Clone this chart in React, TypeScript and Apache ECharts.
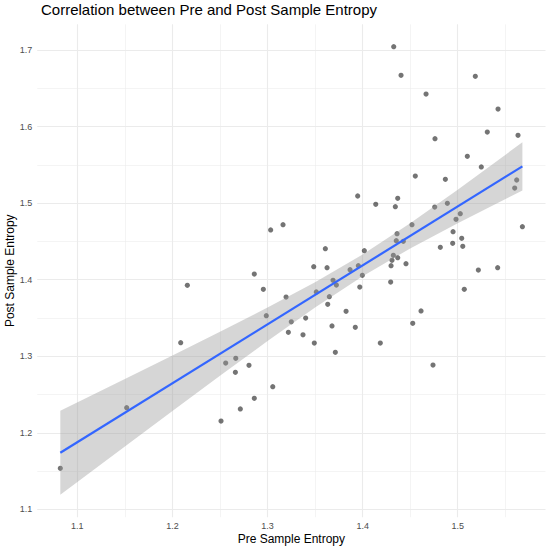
import React, { useEffect, useRef } from "react";
import * as echarts from "echarts";

// Scatter points: pre (x) and post (y) sample entropy
const preEntropy = [
  1.0821, 1.1519, 1.2087, 1.2157, 1.2511, 1.256, 1.2666, 1.2662, 1.2714, 1.2805,
  1.2861, 1.2956, 1.2987, 1.2861, 1.3055, 1.3033, 1.3163, 1.3608, 1.4018, 1.3486,
  1.3626, 1.3868, 1.3955, 1.3997, 1.3689, 1.3724, 1.397, 1.4295, 1.3195, 1.3513,
  1.365, 1.3633, 1.3401, 1.325, 1.3826, 1.3219, 1.3373, 1.3678, 1.3923, 1.3492,
  1.3713, 1.4186, 1.3948, 1.4138, 1.4344, 1.4369, 1.4362, 1.4354, 1.4554, 1.487,
  1.562, 1.5599, 1.4758, 1.4891, 1.4519, 1.5027, 1.4982, 1.568, 1.4428, 1.4951,
  1.5042, 1.4947, 1.4817, 1.5053, 1.4323, 1.4369, 1.4309, 1.4299, 1.4456, 1.5217,
  1.542, 1.5069, 1.4614, 1.4527, 1.474, 1.4327, 1.4404, 1.5185, 1.4667, 1.5424,
  1.4761, 1.5311, 1.5634, 1.5101, 1.5248,
];
const postEntropy = [
  1.1536, 1.2327, 1.3176, 1.3926, 1.2153, 1.2911, 1.2973, 1.279, 1.2311, 1.2881,
  1.4074, 1.3874, 1.3529, 1.245, 1.2602, 1.4649, 1.4718, 1.4404, 1.4378, 1.4169,
  1.4156, 1.413, 1.4182, 1.4057, 1.3991, 1.393, 1.3904, 1.3969, 1.3773, 1.3839,
  1.3778, 1.3678, 1.3499, 1.345, 1.3586, 1.3312, 1.328, 1.3395, 1.3377, 1.3172,
  1.3051, 1.3172, 1.5093, 1.4984, 1.4953, 1.5063, 1.46, 1.4509, 1.5354, 1.5311,
  1.5302, 1.5197, 1.4949, 1.4997, 1.4718, 1.4862, 1.4788, 1.4692, 1.4501, 1.4627,
  1.454, 1.4475, 1.4423, 1.4436, 1.4318, 1.4287, 1.4253, 1.4182, 1.4208, 1.4126,
  1.4156, 1.3874, 1.3591, 1.343, 1.2885, 1.7043, 1.667, 1.6656, 1.6425, 1.6229,
  1.5841, 1.5929, 1.5885, 1.5611, 1.5472,
];

// Fitted line end points and confidence band
const fitX = [1.0821, 1.568];
const fitY = [1.1739, 1.548];
const bandX = [1.0821, 1.15, 1.2, 1.25, 1.3, 1.35, 1.4, 1.45, 1.5, 1.568];
const bandUpper = [1.2288, 1.2702, 1.301, 1.332, 1.3636, 1.3967, 1.4329, 1.4737, 1.5176, 1.5794];
const bandLower = [1.119, 1.1822, 1.2285, 1.2744, 1.3198, 1.3638, 1.4045, 1.4408, 1.4738, 1.5166];

// Axis ticks
const xTicks = [1.1, 1.2, 1.3, 1.4, 1.5];
const xMinorTicks = [1.15, 1.25, 1.35, 1.45, 1.55];
const yTicks = [1.1, 1.2, 1.3, 1.4, 1.5, 1.6, 1.7];
const yMinorTicks = [1.15, 1.25, 1.35, 1.45, 1.55, 1.65];

const FONT = "'Liberation Sans', Arial, Helvetica, sans-serif";

export default function App() {
  const ref = useRef<HTMLDivElement>(null);

  useEffect(() => {
    document.body.style.margin = "0";
    if (!ref.current) return;
    const chart = echarts.init(ref.current, null, { renderer: "svg" });

    const gridColor = "#EBEBEB";
    const gridLines: any[] = [];
    xTicks.forEach((v) => gridLines.push({ xAxis: v, lineStyle: { color: gridColor, width: 1.1, type: "solid" } }));
    xMinorTicks.forEach((v) => gridLines.push({ xAxis: v, lineStyle: { color: gridColor, width: 0.55, type: "solid" } }));
    yTicks.forEach((v) => gridLines.push({ yAxis: v, lineStyle: { color: gridColor, width: 1.1, type: "solid" } }));
    yMinorTicks.forEach((v) => gridLines.push({ yAxis: v, lineStyle: { color: gridColor, width: 0.55, type: "solid" } }));

    const points = preEntropy.map((x, i) => [x, postEntropy[i]]);

    const option: any = {
      animation: false,
      backgroundColor: "#ffffff",
      title: {
        text: "Correlation between Pre and Post Sample Entropy",
        left: 36,
        top: -3,
        textStyle: { fontFamily: FONT, fontSize: 15, fontWeight: "normal", color: "#000000" },
      },
      grid: {
        left: 37.2,
        right: 4.5,
        top: 24.3,
        bottom: 33.8,
        containLabel: false,
        outerBoundsMode: "none",
      },
      xAxis: {
        type: "value",
        min: 1.0578,
        max: 1.5923,
        name: "Pre Sample Entropy",
        nameLocation: "middle",
        nameGap: 16,
        nameMoveOverlap: false,
        nameTextStyle: { fontFamily: FONT, fontSize: 12, color: "#000000", verticalAlign: "top" },
        axisLine: { show: false },
        axisTick: { show: false },
        splitLine: { show: false },
        axisLabel: {
          customValues: xTicks,
          formatter: (v: number) => v.toFixed(1),
          fontFamily: FONT,
          fontSize: 9,
          color: "#4D4D4D",
          margin: 4,
        },
      },
      yAxis: {
        type: "value",
        min: 1.0897,
        max: 1.7336,
        name: "Post Sample Entropy",
        nameLocation: "middle",
        nameGap: 21,
        nameMoveOverlap: false,
        nameTextStyle: { fontFamily: FONT, fontSize: 12, color: "#000000" },
        axisLine: { show: false },
        axisTick: { show: false },
        splitLine: { show: false },
        axisLabel: {
          customValues: yTicks,
          formatter: (v: number) => v.toFixed(1),
          fontFamily: FONT,
          fontSize: 9,
          color: "#4D4D4D",
          margin: 5,
        },
      },
      series: [
        {
          type: "line",
          data: [],
          z: 0,
          silent: true,
          markLine: {
            z: 0,
            silent: true,
            symbol: ["none", "none"],
            label: { show: false },
            emphasis: { disabled: true },
            data: gridLines,
          },
        },
        {
          type: "scatter",
          data: points,
          symbolSize: 5.2,
          z: 2,
          itemStyle: { color: "rgba(0,0,0,0.68)" },
          silent: true,
        },
        {
          type: "custom",
          z: 3,
          silent: true,
          data: [[bandX[0], bandLower[0]]],
          renderItem: (params: any, api: any) => {
            const pts: number[][] = [];
            for (let i = 0; i < bandX.length; i++) pts.push(api.coord([bandX[i], bandUpper[i]]));
            for (let i = bandX.length - 1; i >= 0; i--) pts.push(api.coord([bandX[i], bandLower[i]]));
            return {
              type: "polygon",
              shape: { points: pts },
              style: { fill: "rgba(153,153,153,0.4)", stroke: "none" },
            };
          },
        },
        {
          type: "line",
          z: 4,
          silent: true,
          data: fitX.map((x, i) => [x, fitY[i]]),
          showSymbol: false,
          symbol: "none",
          lineStyle: { color: "#3366FF", width: 2.2 },
        },
      ],
    };

    chart.setOption(option);
    return () => chart.dispose();
  }, []);

  return <div ref={ref} style={{ width: 550, height: 551 }} />;
}
